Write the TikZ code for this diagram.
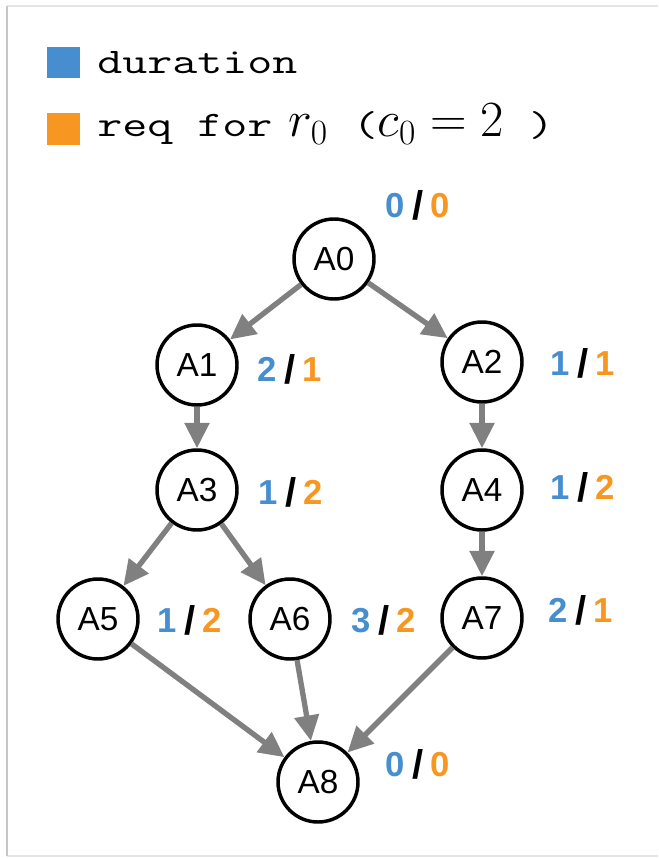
\RequirePackage{fix-cm}
\documentclass[tikz,border=0pt]{standalone}
\usepackage{fontspec}
\usepackage{graphicx}
\usetikzlibrary{arrows.meta,shadows}

\newfontfamily\nodefont{Liberation Sans}
\definecolor{durblue}{RGB}{70,142,208}
\definecolor{reqorange}{RGB}{247,150,32}
\definecolor{edgegray}{RGB}{128,128,128}
\newcommand{\costpair}[2]{{\color{durblue}#1}\kern5.5pt\raisebox{-1.5pt}{\fontsize{30}{30}\selectfont/}\kern5.5pt{\color{reqorange}#2}}
\newcommand{\legendtext}[1]{\scalebox{1.35}[1]{\fontsize{27}{30}\selectfont\ttfamily #1}}
\newcommand{\legendmath}[1]{{\fontsize{38}{42}\selectfont$#1$}}

\begin{document}
\begin{tikzpicture}[x=0.75pt,y=-0.75pt,
	task/.style={circle,draw=black,line width=2.6pt,fill=white,minimum size=60pt,inner sep=0pt,
		font=\nodefont\fontsize{25}{28}\selectfont,
		circular drop shadow={shadow xshift=1.3pt,shadow yshift=-1.3pt,shadow scale=1,opacity=0.35,fill=black}},
	cost/.style={font=\nodefont\bfseries\fontsize{26}{30}\selectfont},
	dep/.style={draw=edgegray,line width=4pt,-{Triangle[length=19pt,width=18pt]}}]
	\useasboundingbox (0,0) rectangle (658,859);

	% card frame
	\draw[gray!20,line width=1.5pt] (658,6) -- (7,6);
	\draw[gray!20,line width=1.5pt] (7,856) -- (658,856);
	\draw[gray!45,line width=1.5pt] (7,6) -- (7,856);

	% legend
	\fill[durblue] (47,47) rectangle (80,78);
	\fill[reqorange] (47,113) rectangle (80,145);
	\node[anchor=base west,inner sep=0pt] (dur) at (97,74) {\legendtext{duration}};
	\node[anchor=base west,inner sep=0pt] (req) at (97,137)
		{\legendtext{req for}\kern12pt\legendmath{r_0}\legendtext{\ (}\legendmath{c_0=2}\legendtext{\ )}};

	% tasks
	\node[task] (A0) at (334,259) {A0};
	\node[task] (A1) at (197,365) {A1};
	\node[task] (A2) at (482,362) {A2};
	\node[task] (A3) at (197,490) {A3};
	\node[task] (A4) at (482,490) {A4};
	\node[task] (A5) at (98,619) {A5};
	\node[task] (A6) at (290,619) {A6};
	\node[task] (A7) at (482,618) {A7};
	\node[task] (A8) at (318,782) {A8};

	% dependencies
	\draw[dep] (A0) -- (A1);
	\draw[dep] (A0) -- (A2);
	\draw[dep] (A1) -- (A3);
	\draw[dep] (A2) -- (A4);
	\draw[dep] (A3) -- (A5);
	\draw[dep] (A3) -- (A6);
	\draw[dep] (A4) -- (A7);
	\draw[dep] (A5) -- (A8);
	\draw[dep] (A6) -- (A8);
	\draw[dep] (A7) -- (A8);

	% duration / requirement
	\node[cost] (c0) at (418,205) {\costpair{0}{0}};
	\node[cost] (c1) at (290,369) {\costpair{2}{1}};
	\node[cost] (c2) at (583,363) {\costpair{1}{1}};
	\node[cost] (c3) at (291,492) {\costpair{1}{2}};
	\node[cost] (c4) at (583,487) {\costpair{1}{2}};
	\node[cost] (c5) at (190,620) {\costpair{1}{2}};
	\node[cost] (c6) at (384,620) {\costpair{3}{2}};
	\node[cost] (c7) at (581,610) {\costpair{2}{1}};
	\node[cost] (c8) at (418,764) {\costpair{0}{0}};

\end{tikzpicture}
\end{document}
